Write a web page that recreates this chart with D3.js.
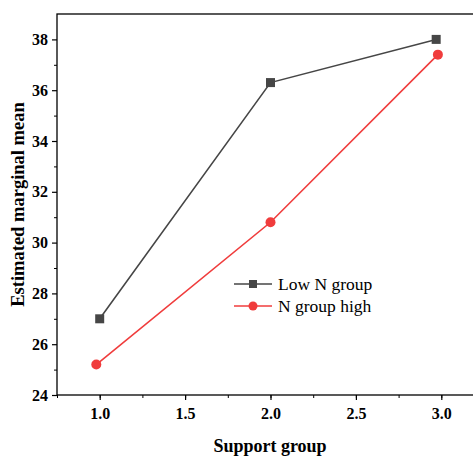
<!DOCTYPE html>
<html>
<head>
<meta charset="utf-8">
<script src="https://cdn.jsdelivr.net/npm/d3@7"></script>
<style>
  body { margin: 0; background: #fff; }
  svg text { font-family: "Liberation Serif", "Times New Roman", serif !important; }
</style>
</head>
<body>
<div id="chart"></div>
<script>
var supportLow = [1.0, 2.0, 2.97];
var lowN = [27.0, 36.3, 38.0];
var supportHigh = [0.98, 2.0, 2.98];
var highN = [25.2, 30.8, 37.4];
var seriesNames = ['Low N group', 'N group high'];
var xTicks = [1.0, 1.5, 2.0, 2.5, 3.0];
var yTicks = [24, 26, 28, 30, 32, 34, 36, 38];

var width = 473, height = 457;
var plotLeft = 57, plotTop = 14, plotBottom = 395, plotRight = 484;
var serif = '"Liberation Serif", "Times New Roman", serif';

var svg = d3.select('#chart').append('svg')
  .attr('width', width)
  .attr('height', height)
  .attr('font-family', serif);

var x = d3.scaleLinear().domain([0.75, 3.25]).range([plotLeft, plotRight]);
var y = d3.scaleLinear().domain([24, 39]).range([plotBottom, plotTop]);

// frame
svg.append('rect')
  .attr('x', plotLeft).attr('y', plotTop)
  .attr('width', plotRight - plotLeft).attr('height', plotBottom - plotTop)
  .attr('fill', 'none').attr('stroke', '#000').attr('stroke-width', 1.3);

// minor ticks
var xMinor = d3.range(0.75, 3.26, 0.25);
svg.append('g')
  .attr('transform', 'translate(0,' + plotBottom + ')')
  .call(d3.axisBottom(x).tickValues(xMinor).tickSize(3).tickFormat(''))
  .call(function(g) { g.select('.domain').remove(); });
var yMinor = d3.range(25, 39, 2);
svg.append('g')
  .attr('transform', 'translate(' + plotLeft + ',0)')
  .call(d3.axisLeft(y).tickValues(yMinor).tickSize(3).tickFormat(''))
  .call(function(g) { g.select('.domain').remove(); });

// major axes
var xAxis = svg.append('g')
  .attr('transform', 'translate(0,' + plotBottom + ')')
  .call(d3.axisBottom(x).tickValues(xTicks).tickSize(5).tickPadding(8).tickFormat(d3.format('.1f')));
var yAxis = svg.append('g')
  .attr('transform', 'translate(' + plotLeft + ',0)')
  .call(d3.axisLeft(y).tickValues(yTicks).tickSize(5).tickPadding(4));
[xAxis, yAxis].forEach(function(a) {
  a.select('.domain').remove();
  a.attr('font-family', serif).attr('font-size', 16).attr('font-weight', 'bold');
  a.selectAll('line').attr('stroke', '#000').attr('stroke-width', 1.2);
  a.selectAll('text').attr('fill', '#000');
});

// titles
svg.append('text')
  .attr('x', 270).attr('y', 452)
  .attr('text-anchor', 'middle')
  .attr('font-size', 18).attr('font-weight', 'bold')
  .text('Support group');
svg.append('text')
  .attr('transform', 'translate(24,' + ((plotTop + plotBottom) / 2) + ') rotate(-90)')
  .attr('text-anchor', 'middle')
  .attr('font-size', 18.5).attr('font-weight', 'bold')
  .text('Estimated marginal mean');

var line = d3.line().x(function(d) { return x(d[0]); }).y(function(d) { return y(d[1]); });
var lowData = d3.zip(supportLow, lowN);
var highData = d3.zip(supportHigh, highN);
var gray = '#464646', red = '#f03c3c';

svg.append('path').datum(lowData).attr('d', line)
  .attr('fill', 'none').attr('stroke', gray).attr('stroke-width', 1.6);
svg.append('path').datum(highData).attr('d', line)
  .attr('fill', 'none').attr('stroke', red).attr('stroke-width', 1.6);

svg.selectAll('rect.low').data(lowData).enter().append('rect')
  .attr('class', 'low')
  .attr('x', function(d) { return x(d[0]) - 4.5; })
  .attr('y', function(d) { return y(d[1]) - 4.5; })
  .attr('width', 9).attr('height', 9)
  .attr('fill', gray);
svg.selectAll('circle.high').data(highData).enter().append('circle')
  .attr('class', 'high')
  .attr('cx', function(d) { return x(d[0]); })
  .attr('cy', function(d) { return y(d[1]); })
  .attr('r', 5)
  .attr('fill', red);

// legend
var legend = svg.append('g').attr('transform', 'translate(234,284)');
[gray, red].forEach(function(c, i) {
  var g = legend.append('g').attr('transform', 'translate(0,' + (i * 22) + ')');
  g.append('line').attr('x1', 0).attr('x2', 38).attr('y1', 0).attr('y2', 0)
    .attr('stroke', c).attr('stroke-width', 1.6);
  if (i === 0) {
    g.append('rect').attr('x', 15).attr('y', -4).attr('width', 8).attr('height', 8).attr('fill', c);
  } else {
    g.append('circle').attr('cx', 19).attr('cy', 0).attr('r', 4.5).attr('fill', c);
  }
  g.append('text').attr('x', 44).attr('y', 6)
    .attr('font-size', 17.5)
    .text(seriesNames[i]);
});
</script>
</body>
</html>
